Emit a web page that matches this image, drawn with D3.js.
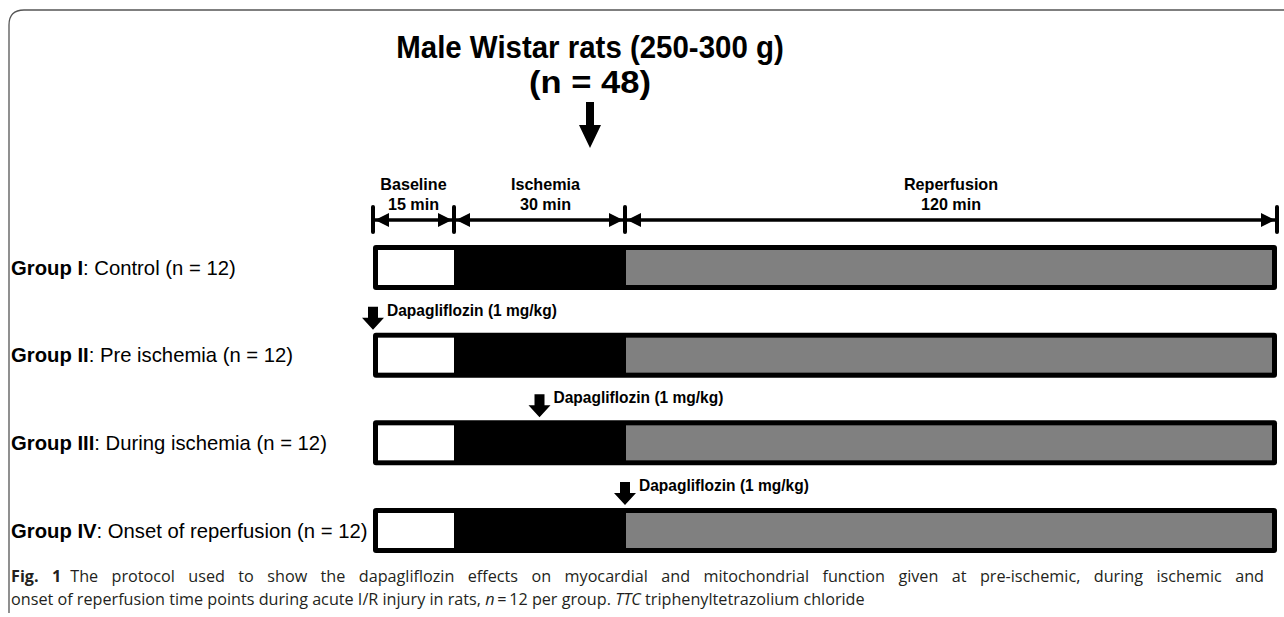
<!DOCTYPE html>
<html><head><meta charset="utf-8">
<script src="https://cdn.jsdelivr.net/npm/d3@7"></script>
<style>html,body{margin:0;padding:0;background:#fff;}svg{display:block;}</style>
</head><body>
<script>
// ---- data ----
const titleLines = ["Male Wistar rats (250-300 g)", "(n = 48)"];
const phases = ["Baseline", "Ischemia", "Reperfusion"];
const phaseMinutes = [15, 30, 120];
const phaseFill = ["#ffffff", "#000000", "#808080"];
const groupNumerals = ["I", "II", "III", "IV"];
const groupNames = ["Control", "Pre ischemia", "During ischemia", "Onset of reperfusion"];
const groupN = [12, 12, 12, 12];
const doseTimes = [null, 0, 30, 45];   // minutes from start
const doseLabel = "Dapagliflozin (1 mg/kg)";
const captionLine1 = "The protocol used to show the dapagliflozin effects on myocardial and mitochondrial function given at pre-ischemic, during ischemic and";

// ---- layout ----
const W = 1284, H = 617;
const svg = d3.select("body").append("svg").attr("width", W).attr("height", H);

const bounds = [0];
phaseMinutes.forEach((m, i) => bounds.push(bounds[i] + m));
const x = d3.scaleLinear().domain(bounds).range([373, 454, 625, 1277]);
const y = d3.scalePoint().domain(groupNumerals).range([267.5, 530.5]);
const barH = 45, border = 5;

function condense(sel, k) {
  sel.each(function () {
    const w = this.getComputedTextLength();
    d3.select(this).attr("textLength", w * k).attr("lengthAdjust", "spacingAndGlyphs");
  });
}
const sans = "'Liberation Sans', Arial, sans-serif";

// frame
svg.append("path")
  .attr("d", "M9,613 L9,25 Q9,10 24,10 L1284,10")
  .attr("fill", "none").attr("stroke", "#555").attr("stroke-width", 1.3);

// title
const tt = svg.append("g").attr("font-family", sans).attr("font-weight", "bold").attr("font-size", 32).attr("text-anchor", "middle");
tt.append("text").attr("x", 590).attr("y", 58).text(titleLines[0]).call(condense, 0.92);
tt.append("text").attr("x", 590).attr("y", 93).text(titleLines[1]).call(condense, 1.08);

// big arrow
svg.append("path")
  .attr("d", "M586,102 L594,102 L594,125 L601,125 L590,148 L579,125 L586,125 Z")
  .attr("fill", "#000");

// phase labels
const pl = svg.append("g").attr("font-family", sans).attr("font-weight", "bold").attr("font-size", 17).attr("text-anchor", "middle");
phases.forEach((p, i) => {
  const cx = (x(bounds[i]) + x(bounds[i + 1])) / 2 + (i === 1 ? 6 : 0);
  pl.append("text").attr("x", cx).attr("y", 190).text(p).call(condense, 0.95);
  pl.append("text").attr("x", cx).attr("y", 210).text(phaseMinutes[i] + " min").call(condense, 0.95);
});

// phase arrows
const ay = 220;
const arr = svg.append("g");
arr.append("line").attr("x1", x(0)).attr("x2", x(bounds[3])).attr("y1", ay).attr("y2", ay)
  .attr("stroke", "#000").attr("stroke-width", 3.5);
bounds.forEach(b => {
  arr.append("line").attr("x1", x(b)).attr("x2", x(b)).attr("y1", ay - 13).attr("y2", ay + 12)
    .attr("stroke", "#000").attr("stroke-width", 4).attr("stroke-linecap", "round");
});
const ah = 14, aw = 7;
for (let i = 0; i < phases.length; i++) {
  const a = x(bounds[i]) + 2, b = x(bounds[i + 1]) - 2;
  arr.append("path").attr("d", `M${a},${ay} L${a + ah},${ay - aw} L${a + ah},${ay + aw} Z`).attr("fill", "#000");
  arr.append("path").attr("d", `M${b},${ay} L${b - ah},${ay - aw} L${b - ah},${ay + aw} Z`).attr("fill", "#000");
}

// bars
groupNumerals.forEach((g, gi) => {
  const top = y(g) - barH / 2;
  const gg = svg.append("g");
  gg.append("rect").attr("x", x(0)).attr("y", top).attr("width", x(bounds[3]) - x(0)).attr("height", barH)
    .attr("rx", 3).attr("fill", "#000");
  phases.forEach((p, i) => {
    if (phaseFill[i] === "#000000") return;
    const x0 = x(bounds[i]) + (i === 0 ? border : 1);
    const x1 = x(bounds[i + 1]) - (i === phases.length - 1 ? border : 0);
    gg.append("rect").attr("x", x0).attr("y", top + border).attr("width", x1 - x0).attr("height", barH - 2 * border)
      .attr("fill", phaseFill[i]);
  });
  // label
  const t = svg.append("text").attr("x", 11).attr("y", y(g) + 7).attr("font-family", sans).attr("font-size", 21).attr("fill", "#000");
  t.append("tspan").attr("font-weight", "bold").text("Group " + g);
  t.append("tspan").text(": " + groupNames[gi] + " (n = " + groupN[gi] + ")");
  t.call(condense, 0.965);
  // dose
  if (doseTimes[gi] !== null) {
    const dx = x(doseTimes[gi]);
    svg.append("path")
      .attr("d", `M${dx - 5},${top - 26} L${dx + 5},${top - 26} L${dx + 5},${top - 15} L${dx + 11},${top - 15} L${dx},${top - 3} L${dx - 11},${top - 15} L${dx - 5},${top - 15} Z`)
      .attr("fill", "#000");
    svg.append("text").attr("x", dx + 14).attr("y", top - 17).attr("font-family", sans).attr("font-weight", "bold")
      .attr("font-size", 16).text(doseLabel).call(condense, 0.97);
  }
});

// caption
const cap = svg.append("g").attr("font-family", "'Open Sans', sans-serif").attr("font-size", 16.2).attr("fill", "#231f20");
const c1 = cap.append("text").attr("x", 11).attr("y", 582);
c1.append("tspan").attr("font-weight", "bold").text("Fig. 1");
c1.append("tspan").attr("dx", 9).text(captionLine1);
// justify first caption line to the full text width
{
  const target = 1264 - 11;
  const natural = c1.node().getComputedTextLength() + 9;
  const spaces = (captionLine1.match(/ /g) || []).length + 1;
  c1.attr("word-spacing", Math.max(0, (target - natural) / spaces));
}
const c2 = cap.append("text").attr("x", 11).attr("y", 605);
c2.append("tspan").text("onset of reperfusion time points during acute I/R injury in rats, ");
c2.append("tspan").attr("font-style", "italic").text("n");
c2.append("tspan").text("\u2009=\u200912 per group. ");
c2.append("tspan").attr("font-style", "italic").text("TTC");
c2.append("tspan").text(" triphenyltetrazolium chloride");
</script>
</body></html>
